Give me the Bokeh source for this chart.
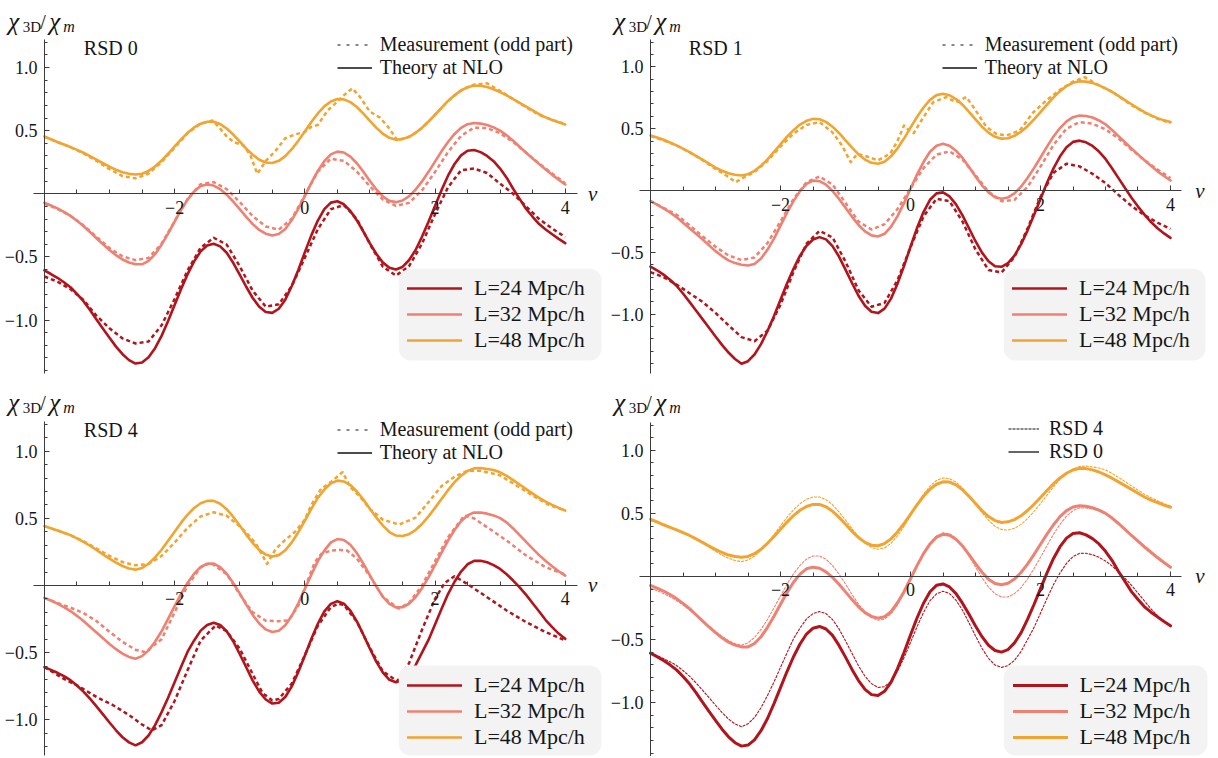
from bokeh.plotting import figure
from bokeh.models import (Range1d, LinearAxis, FixedTicker, CustomJSTickFormatter,
                          Label, Legend, LegendItem, BoxAnnotation)
from bokeh.layouts import column, row
from bokeh.core.properties import value
from bokeh.embed import file_html
from bokeh.resources import INLINE

# ---------------- data ----------------
# fine grid used for the theory curves (NLO), step 0.1
nu_fine = [-4.0, -3.9, -3.8, -3.7, -3.6, -3.5, -3.4, -3.3, -3.2, -3.1,
           -3.0, -2.9, -2.8, -2.7, -2.6, -2.5, -2.4, -2.3, -2.2, -2.1,
           -2.0, -1.9, -1.8, -1.7, -1.6, -1.5, -1.4, -1.3, -1.2, -1.1,
           -1.0, -0.9, -0.8, -0.7, -0.6, -0.5, -0.4, -0.3, -0.2, -0.1,
           0.0, 0.1, 0.2, 0.3, 0.4, 0.5, 0.6, 0.7, 0.8, 0.9,
           1.0, 1.1, 1.2, 1.3, 1.4, 1.5, 1.6, 1.7, 1.8, 1.9,
           2.0, 2.1, 2.2, 2.3, 2.4, 2.5, 2.6, 2.7, 2.8, 2.9,
           3.0, 3.1, 3.2, 3.3, 3.4, 3.5, 3.6, 3.7, 3.8, 3.9,
           4.0]
# grid used for the measurements, step 0.2
nu = [-4.0, -3.8, -3.6, -3.4, -3.2, -3.0, -2.8, -2.6, -2.4, -2.2, -2.0, -1.8, -1.6, -1.4,
      -1.2, -1.0, -0.8, -0.6, -0.4, -0.2, 0.0, 0.2, 0.4, 0.6, 0.8, 1.0, 1.2, 1.4, 1.6, 1.8,
      2.0, 2.2, 2.4, 2.6, 2.8, 3.0, 3.2, 3.4, 3.6, 3.8, 4.0]

series_labels = ["L=24 Mpc/h", "L=32 Mpc/h", "L=48 Mpc/h"]
x_tick_values = [-2, 0, 2, 4]
y_tick_values = [-1.0, -0.5, 0.5, 1.0]

# RSD 0 : theory (solid)
rsd0_theory_L24 = [-0.607, -0.635, -0.665, -0.70, -0.74, -0.793, -0.85, -0.92, -0.995, -1.068,
                   -1.14, -1.21, -1.27, -1.317, -1.344, -1.336, -1.294, -1.222, -1.125, -1.007,
                   -0.881, -0.753, -0.636, -0.535, -0.456, -0.41, -0.396, -0.416, -0.467, -0.546,
                   -0.639, -0.736, -0.825, -0.894, -0.936, -0.943, -0.91, -0.838, -0.73, -0.603,
                   -0.464, -0.329, -0.212, -0.121, -0.07, -0.059, -0.083, -0.136, -0.211, -0.30,
                   -0.392, -0.477, -0.545, -0.586, -0.599, -0.579, -0.526, -0.447, -0.34, -0.222,
                   -0.096, 0.029, 0.143, 0.236, 0.304, 0.341, 0.347, 0.33, 0.30, 0.258,
                   0.20, 0.128, 0.04, -0.04, -0.12, -0.182, -0.24, -0.283, -0.32, -0.357,
                   -0.391]
rsd0_theory_L32 = [-0.071, -0.092, -0.115, -0.143, -0.175, -0.213, -0.255, -0.303, -0.352, -0.4,
                   -0.445, -0.486, -0.52, -0.544, -0.558, -0.558, -0.531, -0.478, -0.403, -0.315,
                   -0.22, -0.128, -0.046, 0.019, 0.061, 0.074, 0.065, 0.037, -0.007, -0.061,
                   -0.122, -0.183, -0.24, -0.286, -0.316, -0.33, -0.319, -0.279, -0.208, -0.12,
                   -0.018, 0.086, 0.181, 0.258, 0.312, 0.334, 0.327, 0.295, 0.242, 0.174,
                   0.102, 0.034, -0.021, -0.056, -0.066, -0.053, -0.02, 0.032, 0.098, 0.174,
                   0.255, 0.336, 0.41, 0.474, 0.522, 0.551, 0.56, 0.556, 0.545, 0.526,
                   0.5, 0.463, 0.42, 0.373, 0.325, 0.28, 0.235, 0.192, 0.15, 0.111,
                   0.074]
rsd0_theory_L48 = [0.454, 0.432, 0.41, 0.39, 0.37, 0.348, 0.325, 0.298, 0.27, 0.242,
                   0.215, 0.19, 0.17, 0.158, 0.153, 0.159, 0.181, 0.216, 0.263, 0.317,
                   0.375, 0.431, 0.483, 0.525, 0.555, 0.571, 0.571, 0.552, 0.517, 0.469,
                   0.414, 0.358, 0.309, 0.27, 0.248, 0.244, 0.261, 0.298, 0.353, 0.42,
                   0.493, 0.568, 0.636, 0.692, 0.731, 0.75, 0.748, 0.726, 0.687, 0.635,
                   0.578, 0.522, 0.475, 0.443, 0.428, 0.433, 0.451, 0.481, 0.523, 0.572,
                   0.626, 0.681, 0.735, 0.781, 0.818, 0.844, 0.857, 0.855, 0.845, 0.828,
                   0.805, 0.779, 0.75, 0.72, 0.69, 0.66, 0.63, 0.605, 0.585, 0.566,
                   0.549]
# RSD 0 : measurement (dashed)
rsd0_meas_L24 = [-0.655, -0.695, -0.755, -0.84, -0.965, -1.065, -1.145, -1.185, -1.17, -1.041, -0.833,
                 -0.606, -0.427, -0.348, -0.402, -0.573, -0.768, -0.893, -0.875, -0.73, -0.507, -0.28,
                 -0.122, -0.089, -0.199, -0.397, -0.578, -0.647, -0.575, -0.395, -0.161, 0.052, 0.186,
                 0.2, 0.165, 0.08, 0.0, -0.1, -0.2, -0.275, -0.343]
rsd0_meas_L32 = [-0.08, -0.12, -0.175, -0.25, -0.34, -0.43, -0.495, -0.525, -0.508, -0.395, -0.217,
                 -0.04, 0.076, 0.093, 0.037, -0.065, -0.177, -0.259, -0.284, -0.197, -0.013, 0.176,
                 0.278, 0.261, 0.176, 0.059, -0.046, -0.096, -0.072, 0.027, 0.173, 0.331, 0.459, 0.524,
                 0.52, 0.48, 0.41, 0.325, 0.24, 0.16, 0.084]
nu_rsd0_meas_L48 = [-4.0, -3.8, -3.6, -3.4, -3.2, -3.0, -2.8, -2.6, -2.4, -2.2, -2.0, -1.8, -1.6, -1.42,
                    -1.32, -1.2, -1.09, -0.94, -0.835, -0.73, -0.6, -0.45, -0.3, -0.15, 0.0, 0.1, 0.2,
                    0.35, 0.5, 0.6, 0.73, 0.85, 1.0, 1.15, 1.28, 1.42, 1.6, 1.8, 2.0, 2.2, 2.4, 2.6,
                    2.8, 3.0, 3.2, 3.4, 3.6, 3.8, 4.0]
rsd0_meas_L48 = [0.45, 0.41, 0.37, 0.32, 0.26, 0.195, 0.14, 0.122, 0.16, 0.25, 0.365, 0.48, 0.555, 0.58,
                 0.528, 0.455, 0.409, 0.383, 0.304, 0.158, 0.26, 0.34, 0.44, 0.47, 0.49, 0.53, 0.545,
                 0.66, 0.73, 0.78, 0.835, 0.765, 0.65, 0.605, 0.53, 0.425, 0.45, 0.52, 0.625, 0.735,
                 0.82, 0.865, 0.875, 0.815, 0.75, 0.685, 0.625, 0.585, 0.552]

# RSD 1 : theory (solid)
rsd1_theory_L24 = [-0.615, -0.645, -0.68, -0.722, -0.77, -0.833, -0.9, -0.97, -1.04, -1.11,
                   -1.18, -1.248, -1.31, -1.362, -1.4, -1.38, -1.326, -1.242, -1.136, -1.015,
                   -0.883, -0.752, -0.633, -0.527, -0.447, -0.396, -0.377, -0.395, -0.45, -0.534,
                   -0.639, -0.748, -0.851, -0.932, -0.98, -0.991, -0.955, -0.874, -0.753, -0.611,
                   -0.455, -0.304, -0.174, -0.075, -0.023, -0.015, -0.048, -0.112, -0.201, -0.305,
                   -0.41, -0.502, -0.572, -0.613, -0.617, -0.587, -0.526, -0.436, -0.324, -0.199,
                   -0.068, 0.062, 0.179, 0.276, 0.35, 0.393, 0.403, 0.39, 0.36, 0.315,
                   0.255, 0.18, 0.1, 0.02, -0.058, -0.13, -0.195, -0.255, -0.305, -0.347,
                   -0.383]
rsd1_theory_L32 = [-0.086, -0.114, -0.145, -0.178, -0.215, -0.26, -0.305, -0.35, -0.395, -0.443,
                   -0.49, -0.53, -0.565, -0.587, -0.6, -0.606, -0.594, -0.55, -0.478, -0.389,
                   -0.284, -0.179, -0.086, -0.005, 0.054, 0.08, 0.075, 0.047, -0.004, -0.068,
                   -0.14, -0.213, -0.279, -0.331, -0.363, -0.372, -0.35, -0.293, -0.207, -0.102,
                   0.014, 0.128, 0.23, 0.313, 0.362, 0.377, 0.362, 0.322, 0.263, 0.19,
                   0.114, 0.042, -0.015, -0.054, -0.067, -0.056, -0.023, 0.031, 0.101, 0.181,
                   0.267, 0.355, 0.436, 0.505, 0.559, 0.593, 0.606, 0.602, 0.59, 0.566,
                   0.535, 0.49, 0.44, 0.39, 0.34, 0.292, 0.245, 0.2, 0.155, 0.117,
                   0.081]
rsd1_theory_L48 = [0.445, 0.428, 0.41, 0.388, 0.365, 0.338, 0.31, 0.28, 0.25, 0.217,
                   0.185, 0.16, 0.14, 0.127, 0.121, 0.132, 0.159, 0.2, 0.252, 0.312,
                   0.373, 0.435, 0.488, 0.533, 0.563, 0.579, 0.576, 0.555, 0.516, 0.465,
                   0.406, 0.347, 0.292, 0.25, 0.224, 0.216, 0.233, 0.276, 0.341, 0.42,
                   0.508, 0.594, 0.671, 0.733, 0.771, 0.782, 0.77, 0.739, 0.694, 0.636,
                   0.575, 0.516, 0.468, 0.434, 0.419, 0.422, 0.442, 0.475, 0.52, 0.575,
                   0.634, 0.695, 0.753, 0.803, 0.844, 0.871, 0.883, 0.88, 0.87, 0.85,
                   0.826, 0.797, 0.765, 0.731, 0.697, 0.664, 0.633, 0.607, 0.585, 0.567,
                   0.553]
# RSD 1 : measurement (dashed)
rsd1_meas_L24 = [-0.66, -0.7, -0.76, -0.83, -0.9, -0.99, -1.09, -1.185, -1.218, -1.133, -0.923, -0.658,
                 -0.43, -0.326, -0.379, -0.575, -0.806, -0.94, -0.909, -0.725, -0.459, -0.21, -0.067,
                 -0.086, -0.251, -0.477, -0.642, -0.663, -0.537, -0.308, -0.051, 0.143, 0.216, 0.195,
                 0.135, 0.06, -0.035, -0.125, -0.2, -0.26, -0.31]
rsd1_meas_L32 = [-0.086, -0.14, -0.195, -0.28, -0.37, -0.455, -0.525, -0.562, -0.541, -0.425, -0.25,
                 -0.068, 0.067, 0.113, 0.048, -0.101, -0.251, -0.315, -0.273, -0.15, 0.017, 0.181, 0.29,
                 0.316, 0.25, 0.123, -0.009, -0.087, -0.075, 0.028, 0.193, 0.369, 0.5, 0.553, 0.54,
                 0.495, 0.42, 0.33, 0.245, 0.17, 0.1]
nu_rsd1_meas_L48 = [-4.0, -3.8, -3.6, -3.4, -3.2, -3.0, -2.8, -2.69, -2.6, -2.4, -2.2, -2.0, -1.8, -1.6,
                    -1.4, -1.2, -1.05, -0.92, -0.82, -0.7, -0.5, -0.31, -0.2, -0.1, -0.03, 0.05, 0.2,
                    0.35, 0.55, 0.7, 0.86, 1.0, 1.17, 1.32, 1.48, 1.68, 1.89, 2.09, 2.3, 2.5, 2.68,
                    2.9, 3.1, 3.4, 3.6, 3.8, 4.0]
rsd1_meas_L48 = [0.44, 0.405, 0.365, 0.31, 0.245, 0.175, 0.11, 0.067, 0.095, 0.15, 0.24, 0.355, 0.46,
                 0.53, 0.553, 0.47, 0.36, 0.229, 0.296, 0.28, 0.243, 0.3, 0.4, 0.526, 0.49, 0.465,
                 0.593, 0.714, 0.755, 0.714, 0.755, 0.65, 0.512, 0.458, 0.445, 0.485, 0.633, 0.728,
                 0.814, 0.88, 0.916, 0.85, 0.8, 0.69, 0.63, 0.58, 0.545]

# RSD 4 : theory (solid)
rsd4_theory_L24 = [-0.608, -0.628, -0.65, -0.675, -0.705, -0.745, -0.79, -0.843, -0.9, -0.96,
                   -1.02, -1.078, -1.13, -1.168, -1.19, -1.167, -1.117, -1.04, -0.943, -0.836,
                   -0.72, -0.605, -0.493, -0.409, -0.336, -0.294, -0.278, -0.294, -0.341, -0.415,
                   -0.51, -0.609, -0.708, -0.79, -0.849, -0.879, -0.873, -0.83, -0.751, -0.644,
                   -0.523, -0.399, -0.285, -0.192, -0.137, -0.117, -0.135, -0.188, -0.267, -0.367,
                   -0.471, -0.569, -0.649, -0.702, -0.72, -0.706, -0.664, -0.595, -0.5, -0.405,
                   -0.29, -0.175, -0.064, 0.028, 0.104, 0.158, 0.183, 0.184, 0.173, 0.152,
                   0.123, 0.084, 0.037, -0.014, -0.07, -0.132, -0.194, -0.257, -0.31, -0.358,
                   -0.397]
rsd4_theory_L32 = [-0.092, -0.112, -0.135, -0.161, -0.19, -0.226, -0.265, -0.307, -0.35, -0.393,
                   -0.435, -0.474, -0.507, -0.532, -0.545, -0.526, -0.483, -0.419, -0.341, -0.248,
                   -0.154, -0.062, 0.021, 0.088, 0.138, 0.162, 0.163, 0.137, 0.088, 0.019,
                   -0.059, -0.142, -0.219, -0.283, -0.327, -0.346, -0.337, -0.296, -0.226, -0.132,
                   -0.026, 0.081, 0.181, 0.26, 0.321, 0.346, 0.339, 0.303, 0.241, 0.162,
                   0.076, -0.009, -0.084, -0.136, -0.163, -0.162, -0.136, -0.088, -0.02, 0.061,
                   0.152, 0.245, 0.335, 0.413, 0.478, 0.522, 0.544, 0.543, 0.535, 0.522,
                   0.502, 0.47, 0.425, 0.375, 0.325, 0.275, 0.226, 0.183, 0.143, 0.106,
                   0.074]
rsd4_theory_L48 = [0.442, 0.426, 0.41, 0.393, 0.375, 0.351, 0.325, 0.296, 0.265, 0.232,
                   0.2, 0.17, 0.145, 0.127, 0.118, 0.131, 0.162, 0.209, 0.266, 0.333,
                   0.401, 0.468, 0.528, 0.577, 0.612, 0.63, 0.63, 0.609, 0.568, 0.512,
                   0.447, 0.379, 0.316, 0.265, 0.23, 0.216, 0.226, 0.262, 0.321, 0.397,
                   0.482, 0.57, 0.652, 0.715, 0.761, 0.781, 0.775, 0.748, 0.7, 0.64,
                   0.572, 0.505, 0.446, 0.398, 0.372, 0.368, 0.382, 0.413, 0.458, 0.515,
                   0.578, 0.644, 0.71, 0.77, 0.817, 0.853, 0.872, 0.875, 0.868, 0.86,
                   0.843, 0.817, 0.785, 0.752, 0.718, 0.684, 0.652, 0.624, 0.6, 0.578,
                   0.558]
# RSD 4 : measurement (dashed)
nu_rsd4_meas_L24 = [-4.0, -3.7, -3.45, -3.2, -2.95, -2.7, -2.5, -2.35, -2.2, -2.0, -1.8, -1.6, -1.37,
                    -1.2, -1.0, -0.8, -0.65, -0.5, -0.4, -0.2, 0.0, 0.2, 0.4, 0.52, 0.6, 0.8, 1.0, 1.2,
                    1.42, 1.6, 1.8, 2.0, 2.15, 2.3, 2.5, 2.8, 3.1, 3.4, 3.7, 4.0]
rsd4_meas_L24 = [-0.608, -0.695, -0.757, -0.83, -0.89, -0.965, -1.035, -1.079, -1.04, -0.86, -0.63,
                 -0.41, -0.298, -0.34, -0.47, -0.66, -0.8, -0.856, -0.845, -0.73, -0.52, -0.3, -0.16,
                 -0.136, -0.145, -0.27, -0.465, -0.64, -0.712, -0.58, -0.33, -0.1, 0.02, 0.069, 0.01,
                 -0.087, -0.186, -0.273, -0.347, -0.409]
nu_rsd4_meas_L32 = [-4.0, -3.8, -3.6, -3.4, -3.2, -3.0, -2.8, -2.6, -2.45, -2.2, -2.0, -1.8, -1.6, -1.45,
                    -1.2, -1.0, -0.8, -0.6, -0.4, -0.25, -0.1, 0.0, 0.15, 0.25, 0.4, 0.55, 0.65, 0.8,
                    1.0, 1.2, 1.44, 1.6, 1.8, 2.0, 2.2, 2.45, 2.6, 2.8, 3.1, 3.4, 3.7, 4.0]
rsd4_meas_L32 = [-0.092, -0.13, -0.165, -0.205, -0.265, -0.345, -0.42, -0.478, -0.496, -0.4, -0.2, 0.0,
                 0.135, 0.17, 0.085, -0.065, -0.2, -0.262, -0.266, -0.26, -0.15, -0.02, 0.17, 0.235,
                 0.26, 0.265, 0.26, 0.2, 0.07, -0.085, -0.172, -0.13, 0.0, 0.18, 0.36, 0.521, 0.5,
                 0.434, 0.335, 0.223, 0.136, 0.082]
nu_rsd4_meas_L48 = [-4.0, -3.8, -3.6, -3.4, -3.2, -3.0, -2.8, -2.6, -2.4, -2.2, -2.0, -1.8, -1.6, -1.4,
                    -1.2, -1.0, -0.9, -0.75, -0.58, -0.45, -0.3, -0.15, 0.0, 0.1, 0.25, 0.4, 0.58, 0.7,
                    0.85, 1.0, 1.2, 1.45, 1.7, 1.9, 2.1, 2.3, 2.5, 2.7, 3.0, 3.25, 3.5, 3.75, 4.0]
rsd4_meas_L48 = [0.442, 0.41, 0.375, 0.33, 0.275, 0.22, 0.175, 0.15, 0.16, 0.22, 0.32, 0.43, 0.515,
                 0.545, 0.52, 0.44, 0.395, 0.31, 0.161, 0.27, 0.34, 0.40, 0.49, 0.6, 0.72, 0.77, 0.844,
                 0.732, 0.66, 0.57, 0.49, 0.454, 0.505, 0.62, 0.74, 0.81, 0.855, 0.855, 0.82, 0.745,
                 0.67, 0.6, 0.558]

# ---------------- styling ----------------
FONT = "Liberation Serif"
INK = "#161616"
AXIS = "#3c3c3c"
C24, C32, C48 = "#B2141C", "#EF8172", "#F2A430"
COLORS = [C24, C32, C48]

X_MINOR = [-3.5, -3, -2.5, -1.5, -1, -0.5, 0.5, 1, 1.5, 2.5, 3, 3.5]
Y_MINOR = [-1.4, -1.3, -1.2, -1.1, -0.9, -0.8, -0.7, -0.6, -0.4, -0.3, -0.2, -0.1,
           0.1, 0.2, 0.3, 0.4, 0.6, 0.7, 0.8, 0.9, 1.1, 1.2]

BOX_EXTRA = {"border_radius": 12} if "border_radius" in BoxAnnotation.properties() else {}


def make_panel(w, h, xr, yr, xb, yb):
    p = figure(width=w, height=h, x_range=Range1d(*xr), y_range=Range1d(*yr),
               x_axis_type=None, y_axis_type=None, toolbar_location=None,
               output_backend="svg", min_border=0, outline_line_color=None,
               background_fill_color="white", border_fill_color="white")
    common = dict(axis_line_color=AXIS, axis_line_width=1,
                  major_tick_line_color=AXIS, minor_tick_line_color=AXIS,
                  major_tick_out=0, minor_tick_out=0,
                  major_label_text_font=FONT, major_label_text_font_size="18px",
                  major_label_text_color=INK)
    xa = LinearAxis(fixed_location=0, bounds=xb,
                    ticker=FixedTicker(ticks=x_tick_values, minor_ticks=X_MINOR),
                    formatter=CustomJSTickFormatter(code="return tick.toFixed(0).replace('-', '\u2212');"),
                    major_tick_in=5, minor_tick_in=4, major_label_standoff=7, **common)
    ya = LinearAxis(fixed_location=-4, bounds=yb,
                    ticker=FixedTicker(ticks=y_tick_values, minor_ticks=Y_MINOR),
                    formatter=CustomJSTickFormatter(code="return tick.toFixed(1).replace('-', '\u2212');"),
                    major_tick_in=5, minor_tick_in=3, major_label_standoff=7, **common)
    p.add_layout(xa, "below")
    p.add_layout(ya, "left")
    return p


def y_title(p, x0, base_from_top):
    H = p.height
    parts = [("\u03c7", 0, 0, "25px", "italic"), ("3D", 14.5, -5, "15px", "normal"),
             ("/", 32, 0, "20px", "normal"), ("\u03c7", 41, 0, "25px", "italic"),
             ("m", 55, -5, "16px", "italic")]
    for txt, dx, dy, fs, st in parts:
        p.add_layout(Label(x=x0 + dx, y=H - base_from_top + dy, x_units="screen", y_units="screen",
                           text=txt, text_font=FONT, text_font_size=fs, text_font_style=st,
                           text_color=INK, text_baseline="alphabetic", text_align="left"))


def nu_label(p, x):
    p.add_layout(Label(x=x, y=0, text="\u03bd", text_font=FONT, text_font_size="21px",
                       text_font_style="italic", text_color=INK, text_baseline="middle"))


def corner_text(p, x, y, txt):
    p.add_layout(Label(x=x, y=y, x_units="screen", y_units="screen", text=txt,
                       text_font=FONT, text_font_size="20px", text_color=INK,
                       text_baseline="middle", text_align="left"))


def legend_box(p, left, right, top, bottom):
    p.add_layout(BoxAnnotation(left=left, right=right, top=top, bottom=bottom,
                               left_units="screen", right_units="screen",
                               top_units="screen", bottom_units="screen",
                               fill_color="#f3f3f3", fill_alpha=1.0, line_color=None,
                               **BOX_EXTRA))


def add_legend(p, labels_renderers, loc, glyph_w, standoff, fs, row_h):
    items = [LegendItem(label=value(t), renderers=[r]) for t, r in labels_renderers]
    p.add_layout(Legend(items=items, location=loc, orientation="vertical", padding=0, spacing=0,
                        margin=0, glyph_width=glyph_w, glyph_height=row_h, label_height=row_h,
                        label_standoff=standoff, label_text_font=FONT, label_text_font_size=fs,
                        label_text_color=INK, border_line_color=None,
                        background_fill_alpha=0.0), "center")


def key_lines(p, dashed_style, dashed_width):
    # hidden renderers that only provide the black legend samples
    rm = p.line(nu_fine, rsd0_theory_L48, line_color="#111111", line_width=dashed_width,
                line_dash=dashed_style, visible=False)
    rt = p.line(nu_fine, rsd0_theory_L48, line_color="#111111", line_width=1.3, visible=False)
    return rm, rt


def data_panel(w, h, xr, yr, xb, yb, theory, meas, rsd_text, rsd_pos, top_loc, box, leg_loc,
               title_x, title_base, nu_x):
    p = make_panel(w, h, xr, yr, xb, yb)
    solid = []
    for ys, c in zip(theory, COLORS):
        solid.append(p.line(nu_fine, ys, line_color=c, line_width=2.6, line_join="round",
                            line_cap="round"))
    for (xs, ys), c in zip(meas, COLORS):
        p.line(xs, ys, line_color=c, line_width=2.5, line_dash="4 3", line_join="round")
    rm, rt = key_lines(p, "3 6", 1.1)
    add_legend(p, [("Measurement (odd part)", rm), ("Theory at NLO", rt)], top_loc, 35, 8, "20px", 19)
    legend_box(p, *box)
    add_legend(p, list(zip(series_labels, solid)), leg_loc, 55, 12, "22px", 24)
    corner_text(p, rsd_pos[0], rsd_pos[1], rsd_text)
    y_title(p, title_x, title_base)
    nu_label(p, nu_x)
    return p


TOP_H, BOT_H, W = 379, 377, 608
XR_L = (-4.6743, 4.6651)
XR_R = (-4.6462, 4.7077)

p_tl = data_panel(W, TOP_H, XR_L, (-1.4703, 1.5305), (-4.17, 4.19), (-1.425, 1.219),
                  [rsd0_theory_L24, rsd0_theory_L32, rsd0_theory_L48],
                  [(nu, rsd0_meas_L24), (nu, rsd0_meas_L32), (nu_rsd0_meas_L48, rsd0_meas_L48)],
                  "RSD 0", (83.3, 332), (336.7, 299.6), (398.3, 601, 110.7, 19), (407, 26.1),
                  7.7, 21, 4.35)

p_tr = data_panel(W, TOP_H, XR_R, (-1.5279, 1.536), (-4.165, 4.17), (-1.482, 1.218),
                  [rsd1_theory_L24, rsd1_theory_L32, rsd1_theory_L48],
                  [(nu, rsd1_meas_L24), (nu, rsd1_meas_L32), (nu_rsd1_meas_L48, rsd1_meas_L48)],
                  "RSD 1", (80.3, 332), (333.7, 299.6), (395.3, 597, 110.7, 19), (404, 26.1),
                  5.8, 21, 4.38)

p_bl = data_panel(W, BOT_H, XR_L, (-1.2733, 1.5339), (-4.17, 4.19), (-1.265, 1.223),
                  [rsd4_theory_L24, rsd4_theory_L32, rsd4_theory_L48],
                  [(nu_rsd4_meas_L24, rsd4_meas_L24), (nu_rsd4_meas_L32, rsd4_meas_L32),
                   (nu_rsd4_meas_L48, rsd4_meas_L48)],
                  "RSD 4", (83.3, 327), (336.7, 292.3), (398.3, 601, 91, 1), (407, 5.8),
                  7.7, 23, 4.35)

# comparison panel: RSD 0 theory (solid) vs RSD 4 theory (thin dashed)
p_br = make_panel(W, BOT_H, XR_R, (-1.4263, 1.561), (-4.165, 4.17), (-1.425, 1.223))
br_solid = []
for ys, c in zip([rsd0_theory_L24, rsd0_theory_L32, rsd0_theory_L48], COLORS):
    br_solid.append(p_br.line(nu_fine, ys, line_color=c, line_width=3, line_join="round",
                              line_cap="round"))
for ys, c in zip([rsd4_theory_L24, rsd4_theory_L32, rsd4_theory_L48], COLORS):
    p_br.line(nu_fine, ys, line_color=c, line_width=1.1, line_dash="3 1", line_join="round")
r4, r0 = key_lines(p_br, "3 1", 1.0)
add_legend(p_br, [("RSD 4", r4), ("RSD 0", r0)], (400, 293.4), 31, 10, "20px", 19)
legend_box(p_br, 395.3, 599, 91, 1)
add_legend(p_br, list(zip(series_labels, br_solid)), (404.5, 5.8), 55, 12, "22px", 24)
y_title(p_br, 5.8, 23)
nu_label(p_br, 4.38)

layout = column(row(p_tl, p_tr), row(p_bl, p_br))
open("out.html", "w", encoding="utf-8").write(file_html(layout, INLINE, title="chi_3D / chi_m"))
